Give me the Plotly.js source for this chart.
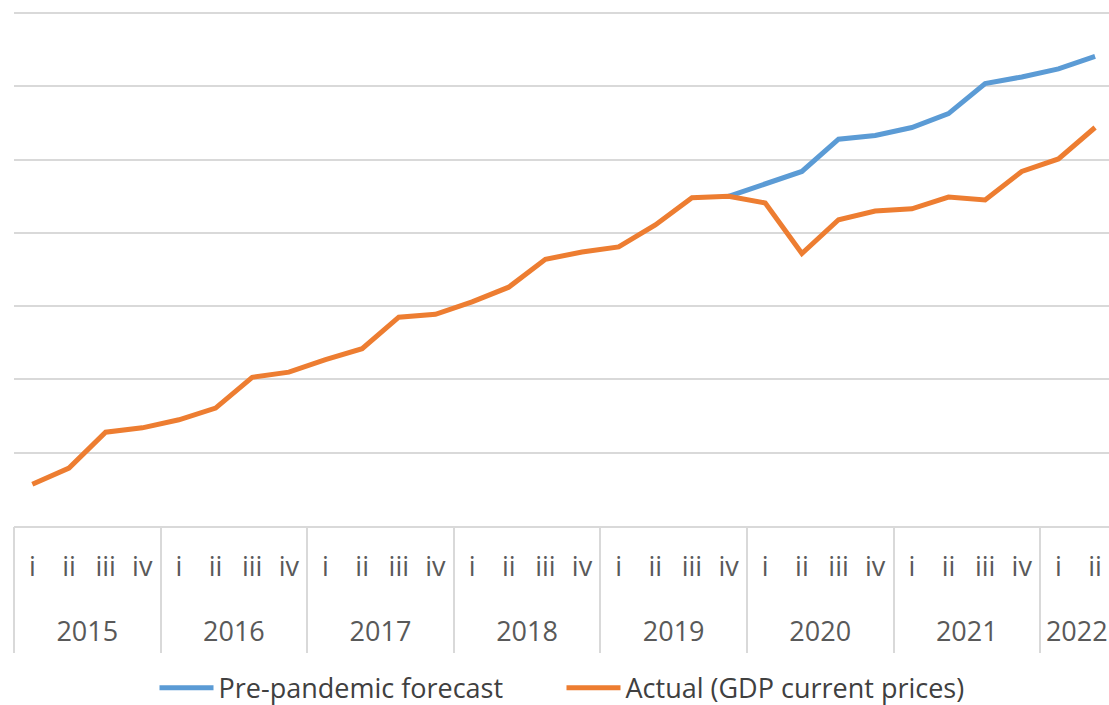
<!DOCTYPE html>
<html>
<head>
<meta charset="utf-8">
<script src="https://cdn.plot.ly/plotly-3.0.1.min.js"></script>
<style>html,body{margin:0;padding:0;background:#fff;}#chart{width:1109px;height:705px;}</style>
</head>
<body>
<div id="chart"></div>
<script>
const years = ["2015","2015","2015","2015","2016","2016","2016","2016","2017","2017","2017","2017",
  "2018","2018","2018","2018","2019","2019","2019","2019","2020","2020","2020","2020",
  "2021","2021","2021","2021","2022","2022"];
const quarters = ["i","ii","iii","iv","i","ii","iii","iv","i","ii","iii","iv",
  "i","ii","iii","iv","i","ii","iii","iv","i","ii","iii","iv",
  "i","ii","iii","iv","i","ii"];
const forecast = [null,null,null,null,null,null,null,null,null,null,null,null,
  null,null,null,null,null,null,null,450,467,484,528,533,544,563,604,613,624,641];
const actual = [57,79,128,134,145,161,203,210,227,242,285,289,
  306,326,364,374,381,411,448,450,441,372,418,430,433,449,445,484,501,544];

// category keys and year groups derived from the arrays above
const cats = years.map((y, i) => y + ' ' + quarters[i]);
const yearList = [...new Set(years)];
const yearCenters = yearList.map(y => {
  const ix = years.map((v, i) => v === y ? i : -1).filter(i => i >= 0);
  return (ix[0] + ix[ix.length - 1]) / 2;
});
const yearStarts = yearList.map(y => years.indexOf(y) - 0.5);
const xr = [-0.5, 29.38];

const traces = [
  {type:'scatter', mode:'lines', name:'Pre-pandemic forecast', x:cats, y:forecast,
   line:{color:'#5B9BD5', width:5}},
  {type:'scatter', mode:'lines', name:'Actual (GDP current prices)', x:cats, y:actual,
   line:{color:'#ED7D31', width:5}},
  // empty helper traces so the year-label axis and the divider axis are drawn
  {type:'scatter', mode:'lines', x:[null], y:[null], xaxis:'x2', showlegend:false, hoverinfo:'skip'},
  {type:'scatter', mode:'lines', x:[null], y:[null], xaxis:'x3', showlegend:false, hoverinfo:'skip'}
];
const fam = 'Open Sans, Noto Sans, sans-serif';
const layout = {
  width:1109, height:705,
  margin:{l:14, r:0, t:11, b:179},
  paper_bgcolor:'#fff', plot_bgcolor:'#fff',
  font:{family:fam, size:27, color:'#595959'},
  showlegend:true,
  legend:{orientation:'h', x:0.5, xanchor:'center',
    y:0.024, yanchor:'middle', yref:'container',
    itemwidth:54, entrywidth:338, entrywidthmode:'pixels',
    font:{size:27, color:'#404040'}, traceorder:'normal'},
  xaxis:{type:'category', categoryorder:'array', categoryarray:cats, range:xr,
    tickmode:'array', tickvals:cats, ticktext:quarters, showgrid:false, ticks:'',
    ticklabelstandoff:16, showline:true, linecolor:'#D9D9D9', linewidth:2,
    tickfont:{size:27, color:'#595959'}, automargin:false},
  xaxis2:{type:'linear', overlaying:'x', anchor:'y', side:'bottom', range:xr,
    tickmode:'array', tickvals:yearCenters, ticktext:yearList, showgrid:false, ticks:'',
    ticklabelstandoff:87, showline:false, zeroline:false,
    tickfont:{size:27, color:'#595959'}, automargin:false},
  xaxis3:{type:'linear', overlaying:'x', anchor:'y', side:'bottom', range:xr,
    tickmode:'array', tickvals:yearStarts, showticklabels:false, showgrid:false,
    ticks:'outside', ticklen:126, tickwidth:2, tickcolor:'#D9D9D9',
    showline:false, zeroline:false, automargin:false},
  yaxis:{range:[0,703], dtick:100, showticklabels:false, gridcolor:'#D9D9D9', gridwidth:2,
    zeroline:false, ticks:''}
};
Plotly.newPlot('chart', traces, layout, {displayModeBar:false, staticPlot:true});
</script>
</body>
</html>
